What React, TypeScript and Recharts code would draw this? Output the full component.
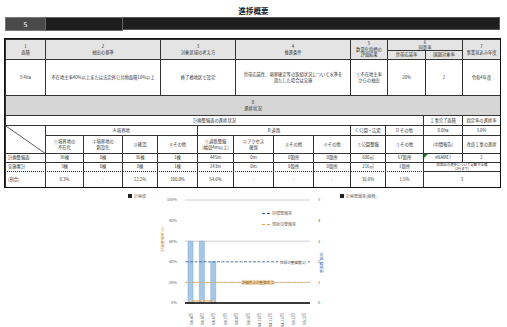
import React from 'react';
import { ComposedChart, Bar, Line, XAxis, YAxis, CartesianGrid, ReferenceLine, Legend } from 'recharts';

// chart data
const months = ['R4.4月', 'R4.5月', 'R4.6月', 'R4.7月', 'R4.8月', 'R4.9月', 'R4.10月', 'R4.11月', 'R4.12月', 'R5.1月', 'R5.2月'];
const planRate = [60, 60, 40, null, null, null, null, null, null, null, null];
const actualCount = [0.1, 0.1, 0.1, null, null, null, null, null, null, null, null];
const leftTicks = [0, 20, 40, 60, 80, 100];
const rightTicks = [0, 1, 2, 3, 4, 5];
const targetCount = 2;
const currentCount = 1;

// table texts
const t1Head = ['1\n面積', '2\n抽出の基準', '3\n対象区域の考え方', '4\n推進条件', '5\n数量化指標の\n評価結果'];
const t1Agree = ['6\n同意率', '世帯応諾率', '国調対象率'];
const t1Year = '7\n事業見込み年度';
const t1Row = ['9.4ha', '不在地主率40%以上または法定外公共物面積10%以上', '終了換地区で設定', '世帯応諾性、境界確定等の取組状況について水準を\n満たした場合は実施', '①不在地主率\nからの抽出', '20%', '2', '令和4年度'];
const groupNames = ['A 境界地', 'B 道路', 'C 公園・広場', 'D その他'];
const subNames = ['①境界地の\n不在化', '②境界地の\n創設化', '③確認', '④その他', '①道路整備\n(幅員4m以上)', '②アクセス\n確保', '③その他', '④その他', '①公園整備', '①その他'];
const rowLabels = ['計画整備面', '実施累計', '(割合)'];
const planVals = ['36棟', '0棟', '36棟', '1棟', '445m', '0m', '0箇所', '0箇所', '600㎡', '67箇所'];
const doneVals = ['3棟', '0棟', '8棟', '1棟', '243m', '0m', '0箇所', '0箇所', '216㎡', '1箇所'];
const ratioVals = ['8.3%', '-', '22.2%', '100.0%', '54.6%', '-', '-', '-', '36.0%', '1.5%'];
const sideHead = ['工事完了面積', '指定率の進捗率'];
const sideVals = ['0.0ha', '3.0%'];
const sideSub = ['(中間報告)', '改良工事の進捗'];
const sideRow = ['#NAME?', '2'];
const sideNote = '前回比の進捗について記載する欄\n(2行まで)';
const sideLast = '3';

const FONT = '"Noto Sans CJK JP", "Noto Sans", sans-serif';

const data = months.map((m, i) => ({ month: m, plan: planRate[i], actual: actualCount[i] }));

const Box = ({ x1, y1, x2, y2, bg = '#fff', fs = 4.3, color = '#333', children, style }: any) => (
    <div style={{
        position: 'absolute', left: x1, top: y1, width: x2 - x1 + 1, height: y2 - y1 + 1, boxSizing: 'border-box',
        border: '1px solid #333', background: bg, fontSize: fs, color, lineHeight: 1.25,
        display: 'flex', alignItems: 'center', justifyContent: 'center', textAlign: 'center', whiteSpace: 'pre-line', overflow: 'hidden', ...style,
    }}>{children}</div>
);

const t1X = [5, 45, 160, 235, 350, 387, 425, 462, 500];
const subX = [45, 83, 122, 157, 197, 233, 273, 313, 350, 385, 423];
const groupX = [45, 197, 350, 385, 423];
const rowY = [153, 162, 171, 187];

const XTick = ({ x, y, payload }: any) => (
    <text x={x} y={y + 2} transform={`rotate(-90 ${x} ${y + 2})`} textAnchor="end" dominantBaseline="central" fontSize={4} fill="#555">{payload.value}</text>
);

const legendContent = () => (
    <div style={{ position: 'relative', width: 507, height: 142, fontSize: 4, color: '#666', pointerEvents: 'none' }}>
        <div style={{ position: 'absolute', left: 128, top: 8 }}><span style={{ display: 'inline-block', width: 4, height: 4, background: '#222', marginRight: 2 }} />計画値</div>
        <div style={{ position: 'absolute', left: 340, top: 8 }}><span style={{ display: 'inline-block', width: 4, height: 4, background: '#222', marginRight: 2 }} />計画整備率(面積)</div>
        <div style={{ position: 'absolute', left: 262, top: 25 }}><span style={{ display: 'inline-block', width: 8, borderTop: '1px dashed #2e5a8a', marginRight: 2, verticalAlign: 'middle' }} />目標整備率</div>
        <div style={{ position: 'absolute', left: 262, top: 36 }}><span style={{ display: 'inline-block', width: 8, borderTop: '1px dashed #e3a04a', marginRight: 2, verticalAlign: 'middle' }} />現状の整備率</div>
    </div>
);

const targetLabel = ({ viewBox }: any) => (
    <g>
        <rect x={viewBox.x + viewBox.width - 32} y={viewBox.y - 2.5} width={30} height={5} fill="#fff" />
        <text x={viewBox.x + viewBox.width - 17} y={viewBox.y + 0.5} textAnchor="middle" dominantBaseline="central" fontSize={3.6} fill="#444">目標の整備数({targetCount})</text>
    </g>
);

const currentLabel = ({ viewBox }: any) => (
    <g>
        <rect x={viewBox.x + 57} y={viewBox.y - 2.5} width={32} height={5} fill="#f2d9b0" />
        <text x={viewBox.x + 73} y={viewBox.y + 0.5} textAnchor="middle" dominantBaseline="central" fontSize={3.6} fill="#8a5a20">評価時点の整備率({currentCount})</text>
    </g>
);

export default function App() {
    return (
        <div style={{ position: 'absolute', left: 0, top: 0, width: 507, height: 327, background: '#fff', fontFamily: FONT, overflow: 'hidden' }}>
            <div style={{ position: 'absolute', left: 0, top: 5, width: 507, textAlign: 'center', fontSize: 7.5, fontWeight: 700, color: '#222' }}>進捗概要</div>

            {/* title bar */}
            <div style={{ position: 'absolute', left: 5, top: 17, width: 495, height: 13, background: '#1e1e1e', border: '1px solid #555', boxSizing: 'border-box' }} />
            <Box x1={5} y1={17} x2={45} y2={30} bg="#4a4a4a" fs={7} color="#fff" style={{ border: '1px solid #777' }}>5</Box>
            <Box x1={45} y1={17} x2={122} y2={30} bg="#1e1e1e" style={{ border: '1px solid #666' }} />

            {/* table 1 */}
            {t1Head.map((t, i) => <Box key={'h' + i} x1={t1X[i]} y1={39} x2={t1X[i + 1]} y2={59} bg="#e4e4e4">{t}</Box>)}
            <Box x1={387} y1={39} x2={462} y2={50} bg="#e4e4e4">{t1Agree[0]}</Box>
            <Box x1={387} y1={50} x2={425} y2={59} bg="#e4e4e4">{t1Agree[1]}</Box>
            <Box x1={425} y1={50} x2={462} y2={59} bg="#e4e4e4">{t1Agree[2]}</Box>
            <Box x1={462} y1={39} x2={500} y2={59} bg="#e4e4e4">{t1Year}</Box>
            {t1Row.map((t, i) => <Box key={'r' + i} x1={t1X[i]} y1={59} x2={t1X[i + 1]} y2={95}>{t}</Box>)}

            {/* table 2 */}
            <Box x1={5} y1={95} x2={500} y2={115} bg="#d6d6d6" fs={4.4}>{'8\n進捗状況'}</Box>
            <Box x1={5} y1={115} x2={423} y2={125}>計画整備面の進捗状況</Box>
            <Box x1={423} y1={115} x2={462} y2={125}>{sideHead[0]}</Box>
            <Box x1={462} y1={115} x2={500} y2={125}>{sideHead[1]}</Box>
            <Box x1={5} y1={125} x2={45} y2={153}>
                <svg width={40} height={28} style={{ position: 'absolute', left: 0, top: 0 }}><line x1={0} y1={0} x2={40} y2={28} stroke="#333" strokeWidth={0.8} /></svg>
            </Box>
            {groupNames.map((g, i) => <Box key={'g' + i} x1={groupX[i]} y1={125} x2={groupX[i + 1]} y2={135}>{g}</Box>)}
            <Box x1={423} y1={125} x2={462} y2={135}>{sideVals[0]}</Box>
            <Box x1={462} y1={125} x2={500} y2={135}>{sideVals[1]}</Box>
            {subNames.map((s, i) => <Box key={'s' + i} x1={subX[i]} y1={135} x2={subX[i + 1]} y2={153}>{s}</Box>)}
            <Box x1={423} y1={135} x2={462} y2={153}>{sideSub[0]}</Box>
            <Box x1={462} y1={135} x2={500} y2={153}>{sideSub[1]}</Box>
            {[planVals, doneVals, ratioVals].map((vals, r) => (
                <React.Fragment key={'row' + r}>
                    <Box x1={5} y1={rowY[r]} x2={45} y2={rowY[r + 1]} style={{ justifyContent: 'flex-start', paddingLeft: 2, ...(r === 2 ? { borderTop: '1px dotted #333' } : {}) }}>{rowLabels[r]}</Box>
                    {vals.map((v, i) => <Box key={i} x1={subX[i]} y1={rowY[r]} x2={subX[i + 1]} y2={rowY[r + 1]} style={r === 2 ? { borderTop: '1px dotted #333' } : {}}>{v}</Box>)}
                </React.Fragment>
            ))}
            <Box x1={423} y1={153} x2={462} y2={162}>{sideRow[0]}
                <div style={{ position: 'absolute', left: 0, top: 0, width: 0, height: 0, borderTop: '4px solid #1a7a30', borderRight: '4px solid transparent' }} />
            </Box>
            <Box x1={462} y1={153} x2={500} y2={162}>{sideRow[1]}</Box>
            <Box x1={423} y1={162} x2={500} y2={171} fs={3.4}>{sideNote}</Box>
            <Box x1={423} y1={171} x2={500} y2={187}>{sideLast}</Box>
            <div style={{ position: 'absolute', left: 4, top: 38, width: 497, height: 150, border: '1.5px solid #111', boxSizing: 'border-box' }} />

            {/* chart */}
            <div style={{ position: 'absolute', left: 0, top: 185 }}>
                <ComposedChart width={507} height={142} data={data} margin={{ top: 15, right: 182, left: 160, bottom: 0 }} style={{ fontFamily: FONT }}>
                    <CartesianGrid vertical={false} yAxisId="left" stroke="#c4c4c4" strokeWidth={0.8} />
                    <XAxis dataKey="month" interval={0} height={24} tick={<XTick />} tickLine={false} axisLine={{ stroke: '#000', strokeWidth: 1.5 }} />
                    <YAxis yAxisId="left" domain={[0, 100]} ticks={leftTicks} tickFormatter={(v: number) => v + '%'} width={25}
                        axisLine={false} tickLine={false} tick={{ fontSize: 4, fill: '#666' }}
                        label={{ value: '計画整備率(%)', angle: -90, position: 'insideLeft', offset: 3, fontSize: 3.8, fill: '#c9863a' }} />
                    <YAxis yAxisId="right" orientation="right" domain={[0, 5]} ticks={rightTicks} width={15}
                        axisLine={false} tickLine={false} tick={{ fontSize: 4, fill: '#666' }}
                        label={{ value: '整備数(箇所)', angle: -90, position: 'insideRight', offset: 3, fontSize: 3.8, fill: '#4a7ebb' }} />
                    <Legend layout="horizontal" verticalAlign="middle" align="center" content={legendContent} wrapperStyle={{ left: 0, top: 0, width: 507, height: 142 }} />
                    <ReferenceLine yAxisId="right" y={targetCount} stroke="#2e5a8a" strokeDasharray="3 1.5" strokeWidth={0.8} label={targetLabel} />
                    <ReferenceLine yAxisId="right" y={currentCount} stroke="#e3a04a" strokeDasharray="2 1.5" strokeWidth={0.8} label={currentLabel} />
                    <Bar yAxisId="left" dataKey="plan" barSize={5} fill="#a7c7e7" stroke="#7aa6d2" strokeWidth={0.5} isAnimationActive={false} />
                    <Line yAxisId="right" dataKey="actual" stroke="#e3a04a" strokeWidth={1} dot={{ r: 0.9, fill: '#fff', stroke: '#e3a04a', strokeWidth: 0.4 }} connectNulls={false} isAnimationActive={false} />
                </ComposedChart>
            </div>
        </div>
    );
}
